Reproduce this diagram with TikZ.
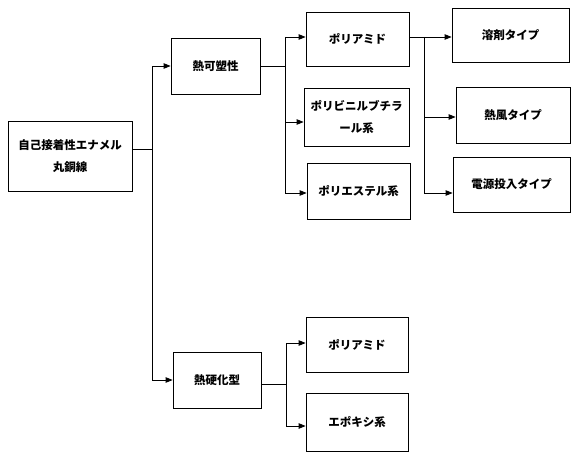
\documentclass[tikz,border=0pt]{standalone}
\usepackage{fontspec}
\newfontfamily\jp{Noto Sans CJK JP}
\usetikzlibrary{arrows.meta}
\tikzset{
  box/.style={draw, line width=0.8pt, inner sep=0pt, align=center,
    font=\jp\bfseries\fontsize{11.5}{21.5}\selectfont},
  ln/.style={line width=0.8pt},
  arr/.style={line width=0.8pt, -{Triangle[length=7pt,width=5.5pt]}}
}
\begin{document}
\begin{tikzpicture}[x=1pt,y=-1pt]
\useasboundingbox (0,0) rectangle (580,460);
% boxes (centers at pixel coords)
\node[box, minimum width=124pt, minimum height=70pt] (root) at (70,156) {自己接着性エナメル\\丸銅線};
\node[box, minimum width=89pt, minimum height=56pt] (tp) at (215.5,66) {熱可塑性};
\node[box, minimum width=88pt, minimum height=56pt] (th) at (217,380) {熱硬化型};
\node[box, minimum width=103pt, minimum height=54pt] (pa1) at (357.5,39) {ポリアミド};
\node[box, minimum width=105pt, minimum height=58pt] (pvb) at (356.5,117) {ポリビニルブチラ\\ール系};
\node[box, minimum width=103pt, minimum height=56pt] (pe) at (358.5,191) {ポリエステル系};
\node[box, minimum width=117pt, minimum height=54pt] (sol) at (510.5,35) {溶剤タイプ};
\node[box, minimum width=114pt, minimum height=56pt] (hot) at (513,115) {熱風タイプ};
\node[box, minimum width=117pt, minimum height=55pt] (pow) at (511.5,184.5) {電源投入タイプ};
\node[box, minimum width=102pt, minimum height=55pt] (pa2) at (357,344.5) {ポリアミド};
\node[box, minimum width=102pt, minimum height=58pt] (ep) at (357,422) {エポキシ系};
% junctions
\coordinate (j1) at (152,149);
\coordinate (j2) at (285,66);
\coordinate (j3) at (424,37);
\coordinate (j4) at (286,384);
% root branch
\draw[ln] (root.east |- j1) -- (j1);
\draw[ln] (j1 |- tp) -- (j1 |- th);
\draw[arr] (j1 |- tp) -- (tp.west);
\draw[arr] (j1 |- th) -- (th.west);
% thermoplastic branch
\draw[ln] (tp.east) -- (j2);
\draw[ln] (j2 |- 0,37) -- (j2 |- 0,193);
\draw[arr] (j2 |- 0,37) -- (pa1.west |- 0,37);
\draw[arr] (j2 |- 0,122) -- (pvb.west |- 0,122);
\draw[arr] (j2 |- 0,193) -- (pe.west |- 0,193);
% polyamide branch
\draw[ln] (pa1.east |- j3) -- (j3);
\draw[ln] (j3) -- (j3 |- 0,193);
\draw[arr] (j3) -- (sol.west |- j3);
\draw[arr] (j3 |- 0,117) -- (hot.west |- 0,117);
\draw[arr] (j3 |- 0,193) -- (pow.west |- 0,193);
% thermosetting branch
\draw[ln] (th.east |- j4) -- (j4);
\draw[ln] (j4 |- 0,343) -- (j4 |- 0,426);
\draw[arr] (j4 |- 0,343) -- (pa2.west |- 0,343);
\draw[arr] (j4 |- 0,426) -- (ep.west |- 0,426);
\end{tikzpicture}
\end{document}
